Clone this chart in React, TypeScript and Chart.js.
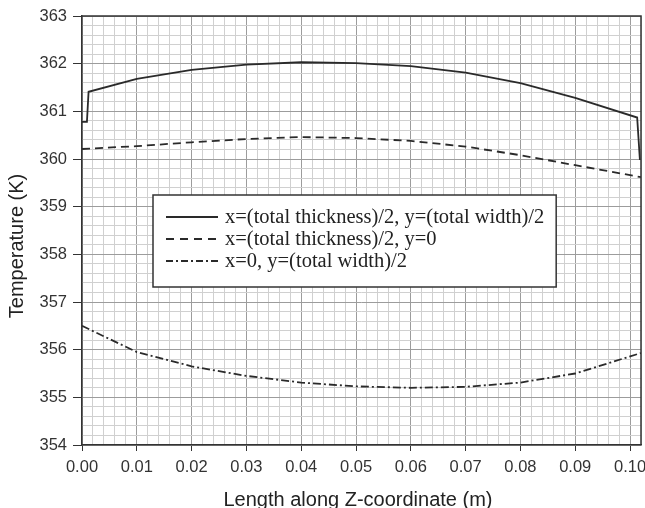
import React, { useEffect, useRef } from "react";
import { Chart, registerables } from "chart.js";

Chart.register(...registerables);

// Length along Z (m) and Temperature (K)
const zSolid = [0, 0.0009, 0.0012, 0.01, 0.02, 0.03, 0.04, 0.05, 0.06, 0.07, 0.08, 0.09, 0.1013, 0.1018];
const tSolid = [360.78, 360.78, 361.41, 361.68, 361.87, 361.98, 362.03, 362.01, 361.95, 361.81, 361.59, 361.28, 360.87, 359.98];

const zDashed = [0, 0.01, 0.02, 0.03, 0.04, 0.05, 0.06, 0.07, 0.08, 0.09, 0.102];
const tDashed = [360.21, 360.27, 360.35, 360.42, 360.46, 360.44, 360.38, 360.26, 360.08, 359.87, 359.62];

const zDashDot = [0, 0.01, 0.02, 0.03, 0.04, 0.05, 0.06, 0.07, 0.08, 0.09, 0.102];
const tDashDot = [356.5, 355.95, 355.65, 355.45, 355.31, 355.23, 355.2, 355.22, 355.31, 355.5, 355.93];

const legendLabels = [
  "x=(total thickness)/2, y=(total width)/2",
  "x=(total thickness)/2, y=0",
  "x=0, y=(total width)/2",
];

const xMin = 0;
const xMax = 0.102;
const yMin = 354;
const yMax = 363;

const xTitle = "Length along Z-coordinate (m)";
const yTitle = "Temperature (K)";

const LINE = "#2a2a2a";
const dashes: number[][] = [[], [8, 5], [8, 3, 2, 3]];
const legendDashes: number[][] = [[], [8, 6], [7, 3, 2, 3]];

const isMajorX = (v: number) => v != null && Math.abs(v * 100 - Math.round(v * 100)) < 1e-6;
const isMajorY = (v: number) => v != null && Math.abs(v - Math.round(v)) < 1e-6;

const pts = (xs: number[], ys: number[]) => xs.map((x, i) => ({ x, y: ys[i] }));

const overlay = {
  id: "overlay",
  afterDraw(chart: any) {
    const { ctx, chartArea } = chart;
    const { left, right, top, bottom } = chartArea;
    ctx.save();
    // frame top/right
    ctx.strokeStyle = "#333";
    ctx.lineWidth = 1.5;
    ctx.beginPath();
    ctx.moveTo(left, top);
    ctx.lineTo(right, top);
    ctx.lineTo(right, bottom);
    ctx.stroke();

    // legend box
    const font = "20.5px 'Liberation Serif', 'Times New Roman', serif";
    ctx.font = font;
    const textX = 225;
    let maxW = 0;
    legendLabels.forEach((l) => (maxW = Math.max(maxW, ctx.measureText(l).width)));
    const boxL = 153;
    const boxT = 195;
    const boxB = 287;
    const boxR = textX + maxW + 12;
    ctx.fillStyle = "#fff";
    ctx.fillRect(boxL, boxT, boxR - boxL, boxB - boxT);
    ctx.strokeStyle = "#333";
    ctx.lineWidth = 1.5;
    ctx.strokeRect(boxL, boxT, boxR - boxL, boxB - boxT);
    const rows = [217, 239, 261];
    legendLabels.forEach((l, i) => {
      ctx.strokeStyle = LINE;
      ctx.lineWidth = 1.8;
      ctx.setLineDash(legendDashes[i]);
      ctx.beginPath();
      ctx.moveTo(166, rows[i]);
      ctx.lineTo(218, rows[i]);
      ctx.stroke();
      ctx.setLineDash([]);
      ctx.fillStyle = "#222";
      ctx.textAlign = "left";
      ctx.textBaseline = "middle";
      ctx.fillText(l, textX, rows[i] + 1);
    });

    // axis titles
    ctx.font = "20px 'Liberation Sans', Arial, sans-serif";
    ctx.fillStyle = "#222";
    ctx.textAlign = "center";
    ctx.textBaseline = "alphabetic";
    ctx.fillText(xTitle, 358, 506);
    ctx.translate(23, 246);
    ctx.rotate(-Math.PI / 2);
    ctx.fillText(yTitle, 0, 0);
    ctx.restore();
  },
};

export default function App() {
  const ref = useRef<HTMLCanvasElement>(null);
  useEffect(() => {
    if (!ref.current) return;
    const tickFont = { family: "'Liberation Sans', Arial, sans-serif", size: 16.5 };
    const chart = new Chart(ref.current, {
      type: "line",
      data: {
        datasets: [
          { label: legendLabels[0], data: pts(zSolid, tSolid) },
          { label: legendLabels[1], data: pts(zDashed, tDashed) },
          { label: legendLabels[2], data: pts(zDashDot, tDashDot) },
        ].map((d, i) => ({
          ...d,
          borderColor: LINE,
          borderWidth: 1.8,
          borderDash: dashes[i],
          pointRadius: 0,
          fill: false,
          tension: 0,
        })),
      },
      options: {
        animation: false,
        responsive: false,
        devicePixelRatio: 1,
        layout: { padding: { top: 16, right: 4, left: 0, bottom: 0 } },
        plugins: { legend: { display: false }, tooltip: { enabled: false } },
        scales: {
          x: {
            type: "linear",
            min: xMin,
            max: xMax,
            afterFit: (s: any) => {
              s.height = 63;
              s.paddingLeft = 0;
              s.paddingRight = 0;
            },
            border: { color: "#333", width: 1.5 },
            grid: {
              color: (c: any) => (isMajorX(c.tick?.value) ? "#9c9c9c" : "#d0d0d0"),
              tickColor: (c: any) => (isMajorX(c.tick?.value) ? "#333" : "rgba(0,0,0,0)"),
              tickLength: 6,
              lineWidth: 1,
            },
            ticks: {
              stepSize: 0.002,
              autoSkip: false,
              maxRotation: 0,
              minRotation: 0,
              maxTicksLimit: 1000,
              padding: 7,
              color: "#333",
              font: tickFont,
              callback: (v: any) => (isMajorX(Number(v)) ? Number(v).toFixed(2) : ""),
            },
          },
          y: {
            type: "linear",
            min: yMin,
            max: yMax,
            afterFit: (s: any) => {
              s.width = 82;
              s.paddingTop = 0;
              s.paddingBottom = 0;
            },
            border: { color: "#333", width: 1.5 },
            grid: {
              color: (c: any) => (isMajorY(c.tick?.value) ? "#9c9c9c" : "#d0d0d0"),
              tickColor: (c: any) => (isMajorY(c.tick?.value) ? "#333" : "rgba(0,0,0,0)"),
              tickLength: 9,
              lineWidth: 1,
            },
            ticks: {
              stepSize: 0.2,
              autoSkip: false,
              maxTicksLimit: 1000,
              padding: 6,
              color: "#333",
              font: tickFont,
              callback: (v: any) => (isMajorY(Number(v)) ? String(Math.round(Number(v))) : ""),
            },
          },
        },
      },
      plugins: [overlay],
    } as any);
    return () => chart.destroy();
  }, []);
  return (
    <div style={{ position: "fixed", left: 0, top: 0, width: 645, height: 508, background: "#fff" }}>
      <canvas ref={ref} width={645} height={508} style={{ display: "block" }} />
    </div>
  );
}
